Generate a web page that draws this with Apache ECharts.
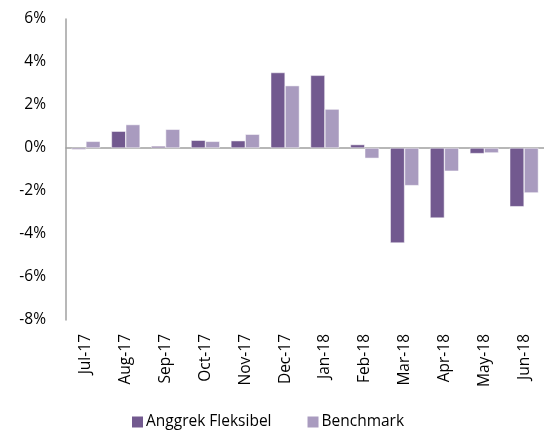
<!DOCTYPE html>
<html><head><meta charset="utf-8">
<script src="https://cdn.jsdelivr.net/npm/echarts@6/dist/echarts.min.js"></script>
<style>html,body{margin:0;padding:0;background:#fff}#c{width:544px;height:430px}</style>
</head><body><div id="c"></div>
<script>
const categories = ['Jul-17','Aug-17','Sep-17','Oct-17','Nov-17','Dec-17','Jan-18','Feb-18','Mar-18','Apr-18','May-18','Jun-18'];
const anggrek = [-0.07, 0.78, 0.09, 0.36, 0.34, 3.51, 3.38, 0.16, -4.42, -3.26, -0.26, -2.73];
const benchmark = [0.31, 1.09, 0.87, 0.31, 0.64, 2.90, 1.81, -0.48, -1.75, -1.08, -0.23, -2.09];
const yTicks = [-8, -6, -4, -2, 0, 2, 4, 6];

const font = 'Open Sans';
const chart = echarts.init(document.getElementById('c'), null, {renderer: 'canvas'});
chart.setOption({
  animation: false,
  textStyle: {fontFamily: font},
  grid: {left: 66, right: -8, top: 19, bottom: 110, containLabel: false},
  legend: {
    top: 409, left: 127, itemGap: 36, padding: [5,5,0,5],
    icon: 'rect', itemWidth: 11, itemHeight: 11, itemStyle: {borderWidth: 0},
    textStyle: {fontFamily: font, fontSize: 15.5, color: '#000', padding: [0,0,0,-2]},
    data: ['Anggrek Fleksibel', 'Benchmark']
  },
  xAxis: [{
    type: 'category', data: categories, position: 'bottom',
    axisLine: {show: false, onZero: false}, axisTick: {show: false},
    axisLabel: {rotate: 90, margin: 14, fontSize: 15.5, color: '#000', fontFamily: font, interval: 0}
  }, {
    type: 'category', data: categories, position: 'bottom',
    axisLine: {show: true, onZero: true, lineStyle: {color: '#A0A0A0', width: 1.5}},
    axisTick: {show: false}, axisLabel: {show: false}
  }],
  yAxis: {
    type: 'value', min: yTicks[0], max: yTicks[yTicks.length-1], interval: 2,
    axisLine: {show: true, lineStyle: {color: '#A0A0A0', width: 1.5}},
    axisTick: {show: false}, splitLine: {show: false},
    axisLabel: {formatter: v => v + '%', fontSize: 15.5, color: '#000', fontFamily: font, margin: 20}
  },
  series: [{
    name: 'Anggrek Fleksibel', type: 'bar', data: anggrek, xAxisIndex: 0,
    barGap: '0%', barCategoryGap: '28%',
    itemStyle: {color: '#72598F', borderColor: '#fff', borderWidth: 0.5}
  }, {
    name: 'Benchmark', type: 'bar', data: benchmark, xAxisIndex: 0,
    barGap: '0%', barCategoryGap: '28%',
    itemStyle: {color: '#A99BBF', borderColor: '#fff', borderWidth: 0.5}
  }]
});
</script></body></html>
